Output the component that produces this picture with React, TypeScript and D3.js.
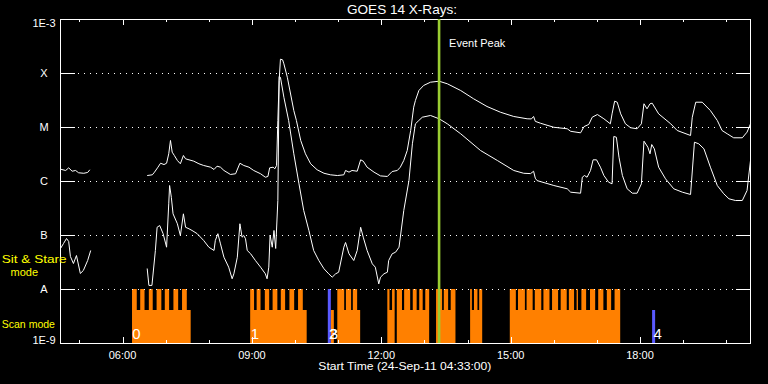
import React from "react";
import * as d3 from "d3";

// GOES 14 X-ray flux, 24-Sep-2011, time in decimal hours (UT), flux in W/m^2
const startHour = 4.55; // 04:33
const endHour = 20.55;

const levelNames = ["1E-9", "A", "B", "C", "M", "X", "1E-3"];
const levelFlux = [1e-9, 1e-8, 1e-7, 1e-6, 1e-5, 1e-4, 1e-3];
const majorHours = [6, 9, 12, 15, 18];

// 1-8 Angstrom channel (null = data gap)
const longChannel: [number, number | null][] = [
  [4.55, 1.69e-6], [4.67, 1.6e-6], [4.74, 1.79e-6], [4.82, 1.55e-6], [4.9, 1.6e-6], [4.97, 1.45e-6],
  [5.09, 1.42e-6], [5.18, 1.47e-6], [5.23, 1.65e-6],
  [5.9, null],
  [6.56, 1.29e-6], [6.68, 1.33e-6], [6.73, 1.49e-6], [6.81, 1.84e-6], [6.87, 2.18e-6], [6.95, 2.06e-6],
  [7.01, 2.18e-6], [7.06, 3.26e-6], [7.1, 5.75e-6], [7.14, 3.49e-6], [7.19, 3.03e-6], [7.26, 2.45e-6],
  [7.33, 2.13e-6], [7.4, 3.03e-6], [7.45, 2.63e-6], [7.53, 2.52e-6], [7.64, 2.38e-6], [7.76, 2.13e-6],
  [7.87, 1.98e-6], [8.03, 1.84e-6], [8.11, 1.67e-6], [8.18, 1.92e-6], [8.26, 1.84e-6], [8.34, 1.6e-6],
  [8.49, 1.35e-6], [8.61, 1.39e-6], [8.71, 2.18e-6], [8.8, 1.98e-6], [8.92, 1.84e-6], [9.03, 1.6e-6],
  [9.19, 1.39e-6], [9.3, 1.2e-6], [9.36, 1.24e-6], [9.4, 1.79e-6], [9.48, 1.84e-6], [9.52, 1.72e-6],
  [9.56, 1.98e-6], [9.59, 1.35e-5], [9.62, 7.4e-5], [9.65, 1.84e-4], [9.7, 1.79e-4], [9.73, 1.51e-4],
  [9.81, 8.5e-5], [9.96, 2.06e-5], [10.02, 1.35e-5], [10.12, 5.75e-6], [10.23, 3.26e-6], [10.35, 2.13e-6],
  [10.5, 1.65e-6], [10.66, 1.42e-6], [10.81, 1.33e-6], [10.97, 1.29e-6], [11.12, 1.33e-6], [11.16, 1.6e-6],
  [11.24, 1.49e-6], [11.31, 1.6e-6], [11.43, 1.55e-6], [11.51, 2.52e-6], [11.57, 2.38e-6], [11.66, 1.84e-6],
  [11.82, 1.49e-6], [11.97, 1.27e-6], [12.13, 1.24e-6], [12.24, 1.53e-6], [12.36, 1.6e-6], [12.43, 1.84e-6],
  [12.51, 2.45e-6], [12.59, 3.75e-6], [12.67, 8.8e-6], [12.74, 2.38e-5], [12.78, 3.16e-5], [12.86, 4.84e-5],
  [12.97, 6.0e-5], [13.13, 6.9e-5], [13.33, 7.2e-5], [13.52, 6.45e-5], [13.83, 4.84e-5], [14.13, 3.4e-5],
  [14.44, 2.45e-5], [14.75, 1.92e-5], [15.06, 1.6e-5], [15.37, 1.45e-5], [15.47, 1.44e-5], [15.52, 1.6e-5],
  [15.56, 1.3e-5], [15.68, 1.2e-5], [15.99, 1.01e-5], [16.3, 9.47e-6], [16.38, 8.5e-6], [16.61, 7.97e-6],
  [16.69, 1.04e-5], [16.8, 1.14e-5], [16.88, 1.55e-5], [17.0, 1.74e-5], [17.15, 1.45e-5], [17.3, 1.17e-5],
  [17.34, 1.79e-5], [17.4, 3.07e-5], [17.46, 2.94e-5], [17.54, 1.79e-5], [17.65, 1.17e-5], [17.77, 9.9e-6],
  [17.92, 9.47e-6], [18.02, 1.17e-5], [18.08, 2.75e-5], [18.15, 2.22e-5], [18.22, 2.75e-5], [18.27, 2.82e-5],
  [18.42, 1.79e-5], [18.7, 1.17e-5], [18.85, 8.8e-6], [19.16, 7.11e-6], [19.2, 1.55e-5], [19.28, 2.94e-5],
  [19.43, 2.94e-5], [19.62, 2.06e-5], [19.78, 1.35e-5], [19.89, 8.8e-6], [20.01, 7.65e-6], [20.16, 6.45e-6],
  [20.36, 6.45e-6], [20.47, 8.2e-6], [20.55, 1.17e-5],
];

// 0.5-4 Angstrom channel
const shortChannel: [number, number | null][] = [
  [4.55, 5.75e-8], [4.62, 7.11e-8], [4.69, 8.8e-8], [4.74, 7.74e-8], [4.78, 4.08e-8], [4.85, 3.03e-8],
  [4.92, 4.26e-8], [5.01, 1.98e-8], [5.08, 2.25e-8], [5.18, 3.44e-8], [5.25, 5.28e-8],
  [5.9, null],
  [6.56, 2.45e-8], [6.6, 1.19e-8], [6.67, 1.19e-8], [6.75, 5.28e-8], [6.79, 1.42e-7], [6.85, 1.53e-7],
  [6.93, 1.08e-7], [7.01, 6.07e-8], [7.06, 3.86e-7], [7.08, 8.43e-7], [7.12, 5.1e-7], [7.16, 2.52e-7],
  [7.26, 1.65e-7], [7.33, 1.0e-7], [7.4, 2.52e-7], [7.45, 1.42e-7], [7.53, 1.33e-7], [7.6, 1.24e-7],
  [7.72, 1.08e-7], [7.87, 8.08e-8], [7.99, 6.07e-8], [8.11, 5.28e-8], [8.14, 8.08e-8], [8.2, 1.08e-7],
  [8.26, 7.0e-8], [8.34, 3.96e-8], [8.45, 2.59e-8], [8.53, 1.58e-8], [8.57, 1.95e-8], [8.65, 3.96e-8],
  [8.71, 1.65e-7], [8.76, 9.3e-8], [8.8, 1.0e-7], [8.84, 8.7e-8], [8.88, 5.28e-8], [8.96, 4.58e-8],
  [9.07, 3.44e-8], [9.19, 2.59e-8], [9.3, 1.95e-8], [9.34, 1.58e-8], [9.38, 2.59e-8], [9.41, 1.02e-7],
  [9.46, 6.07e-8], [9.5, 1.24e-7], [9.54, 5.75e-8], [9.59, 4.45e-7], [9.62, 8.8e-5], [9.65, 8.5e-5],
  [9.73, 3.63e-5], [9.84, 1.35e-5], [9.96, 3.26e-6], [10.08, 9.06e-7], [10.19, 2.9e-7], [10.31, 1.24e-7],
  [10.42, 5.28e-8], [10.54, 3.44e-8], [10.66, 2.42e-8], [10.77, 1.95e-8], [10.85, 1.69e-8], [10.93, 1.95e-8],
  [11.0, 2.09e-8], [11.12, 6.07e-8], [11.16, 7.42e-8], [11.24, 4.58e-8], [11.35, 3.44e-8], [11.43, 5.28e-8],
  [11.51, 1.42e-7], [11.57, 9.3e-8], [11.66, 5.28e-8], [11.78, 2.99e-8], [11.85, 2.59e-8], [11.93, 1.27e-8],
  [11.97, 1.69e-8], [12.05, 1.95e-8], [12.13, 2.09e-8], [12.16, 3.44e-8], [12.24, 4.58e-8], [12.32, 4.91e-8],
  [12.4, 6.07e-8], [12.51, 2.9e-7], [12.63, 1.04e-6], [12.71, 4.99e-6], [12.78, 1.17e-5], [12.86, 1.35e-5],
  [12.94, 1.55e-5], [13.13, 1.67e-5], [13.33, 1.45e-5], [13.52, 1.17e-5], [13.83, 7.65e-6], [14.29, 3.75e-6],
  [14.68, 2.45e-6], [15.06, 1.6e-6], [15.29, 1.42e-6], [15.45, 1.4e-6], [15.52, 1.55e-6], [15.56, 1.15e-6],
  [15.6, 1.04e-6], [15.99, 8.43e-7], [16.3, 7.33e-7], [16.38, 6.34e-7], [16.61, 6.07e-7], [16.65, 1.2e-6],
  [16.7, 1.29e-6], [16.76, 1.2e-6], [16.84, 1.6e-6], [16.9, 2.52e-6], [16.98, 2.52e-6], [17.07, 1.84e-6],
  [17.15, 1.29e-6], [17.26, 9.7e-7], [17.34, 9.06e-7], [17.38, 6.81e-6], [17.44, 6.6e-6], [17.5, 2.82e-6],
  [17.58, 1.29e-6], [17.69, 7.33e-7], [17.81, 6.07e-7], [17.92, 6.07e-7], [18.02, 9.06e-7], [18.08, 5.58e-6],
  [18.17, 4.32e-6], [18.22, 3.26e-6], [18.26, 4.84e-6], [18.32, 4.03e-6], [18.42, 1.84e-6], [18.58, 1.12e-6],
  [18.77, 7.33e-7], [18.97, 6.34e-7], [19.16, 5.75e-7], [19.25, 5.34e-6], [19.35, 4.99e-6], [19.47, 4.03e-6],
  [19.62, 1.84e-6], [19.78, 8.43e-7], [19.93, 5.92e-7], [20.05, 4.78e-7], [20.2, 4.45e-7], [20.36, 4.45e-7],
  [20.47, 6.81e-7], [20.55, 2.45e-6],
];

// instrument mode: scan blocks (lower band) and scan frames (upper band)
const scanBlocks = [
  [6.22, 7.58], [8.96, 10.27], [10.83, 10.9], [10.98, 11.51], [12.14, 12.31], [12.36, 13.11],
  [13.27, 13.72], [14.06, 14.34], [14.98, 17.54],
];
const scanFrames = [
  [6.22, 6.33], [6.41, 6.51], [6.61, 6.7], [6.79, 6.9], [6.98, 7.08], [7.18, 7.29], [7.38, 7.49],
  [8.96, 9.05], [9.11, 9.2], [9.3, 9.4], [9.48, 9.59], [9.67, 9.77], [9.87, 9.98], [10.07, 10.18],
  [10.98, 11.14], [11.18, 11.3], [11.34, 11.44],
  [12.14, 12.19], [12.25, 12.31], [12.36, 12.48], [12.53, 12.67], [12.73, 12.82], [12.88, 12.96], [13.02, 13.11],
  [13.27, 13.41], [13.45, 13.55], [13.61, 13.72],
  [14.06, 14.1], [14.15, 14.23], [14.27, 14.34],
  [14.98, 15.12], [15.17, 15.33], [15.37, 15.51], [15.56, 15.71], [15.76, 15.9], [15.96, 16.1], [16.16, 16.3],
  [16.35, 16.47], [16.53, 16.56], [16.64, 16.75], [16.84, 16.96], [17.03, 17.15], [17.23, 17.33], [17.41, 17.54],
];
const stareFull = [[10.76, 10.83]];
const stareLow = [[18.28, 18.35]];
const modeLabels = ["0", "1", "2", "3", "4"];
const modeLabelHours = [6.32, 9.07, 10.88, 10.9, 18.41];
const eventPeakHour = 13.34;

const W = 768;
const H = 384;
const left = 60, right = 750, top = 19, bottom = 343;
const bandSplit = 310;
const font = "'Liberation Sans', Arial, sans-serif";
const orange = "#ff8000";
const blue = "#5a5aff";
const yellow = "#ffff00";

const App = () => {
  const x = d3.scaleLinear().domain([startHour, endHour]).range([left, right]);
  const y = d3.scaleLog().domain([1e-9, 1e-3]).range([bottom, top]);
  const hourTicks = x.ticks(16).filter((h) => Number.isInteger(h));
  const fmt = d3.format("02d");

  const line = d3
    .line<[number, number | null]>()
    .defined((d) => d[1] != null)
    .x((d) => x(d[0]))
    .y((d) => y(d[1] as number));

  const yA = y(1e-8);

  return (
    <svg width={W} height={H} style={{ position: "absolute", left: 0, top: 0, background: "#000" }}>
      <rect width={W} height={H} fill="#000" />

      {/* mode bars */}
      {scanBlocks.map(([a, b], i) => (
        <rect key={"sb" + i} x={x(a)} y={bandSplit} width={x(b) - x(a)} height={bottom - bandSplit} fill={orange} />
      ))}
      {scanFrames.map(([a, b], i) => (
        <rect key={"sf" + i} x={x(a)} y={yA} width={x(b) - x(a)} height={bandSplit - yA} fill={orange} />
      ))}
      {stareFull.map(([a, b], i) => (
        <rect key={"bf" + i} x={x(a)} y={yA} width={x(b) - x(a)} height={bottom - yA} fill={blue} />
      ))}
      {stareLow.map(([a, b], i) => (
        <rect key={"bl" + i} x={x(a)} y={bandSplit} width={x(b) - x(a)} height={bottom - bandSplit} fill={blue} />
      ))}
      {modeLabels.map((m, i) => (
        <text key={"ml" + i} x={x(modeLabelHours[i])} y={338.5} fill="#fff" fontFamily={font} fontSize={15} textAnchor="middle">
          {m}
        </text>
      ))}

      {/* grid and axes */}
      <g shapeRendering="crispEdges" stroke="#fff" strokeWidth={1}>
        {levelFlux.slice(1, -1).map((f) => (
          <g key={"g" + f}>
            <line x1={78} x2={736} y1={y(f) + 0.5} y2={y(f) + 0.5} strokeDasharray="1 5" />
            <line x1={left} x2={left + 15} y1={y(f) + 0.5} y2={y(f) + 0.5} />
            <line x1={right - 14} x2={right} y1={y(f) + 0.5} y2={y(f) + 0.5} />
          </g>
        ))}
        {hourTicks.map((h) => {
          const len = majorHours.includes(h) ? 6 : 3;
          const xx = Math.round(x(h)) + 0.5;
          return (
            <g key={"t" + h}>
              <line x1={xx} x2={xx} y1={top} y2={top + len} />
              <line x1={xx} x2={xx} y1={bottom} y2={bottom - len} />
            </g>
          );
        })}
        <rect x={left + 0.5} y={top + 0.5} width={right - left} height={bottom - top} fill="none" />
      </g>

      {/* flux curves */}
      <g transform="translate(0.5,0.5)" fill="none" stroke="#fff" strokeWidth={1}>
        <path d={line(longChannel) || ""} />
        <path d={line(shortChannel) || ""} />
      </g>

      {/* event peak */}
      <line x1={x(eventPeakHour)} x2={x(eventPeakHour)} y1={top} y2={bottom} stroke="#9acd32" strokeWidth={2.6} />
      <text x={x(eventPeakHour) + 10} y={46.5} fill="#fff" fontFamily={font} fontSize={11}>
        Event Peak
      </text>

      {/* labels */}
      <text x={402} y={14} fill="#fff" fontFamily={font} fontSize={13} textAnchor="middle" textLength={110} lengthAdjust="spacingAndGlyphs">
        GOES 14 X-Rays:
      </text>
      {levelNames.map((n, i) => (
        <text key={n} x={44} y={y(levelFlux[i]) + (i === levelNames.length - 1 ? 7.7 : i === 0 ? 1 : 4)} fill="#fff" fontFamily={font} fontSize={11} textAnchor="middle">
          {n}
        </text>
      ))}
      {majorHours.map((h) => (
        <text key={"hl" + h} x={x(h)} y={359} fill="#fff" fontFamily={font} fontSize={11} textAnchor="middle">
          {fmt(h)}:00
        </text>
      ))}
      <text x={318.3} y={369.5} fill="#fff" fontFamily={font} fontSize={11} textLength={173} lengthAdjust="spacingAndGlyphs">
        Start Time (24-Sep-11 04:33:00)
      </text>
      <text x={1.7} y={262.5} fill={yellow} fontFamily={font} fontSize={11} textLength={65} lengthAdjust="spacingAndGlyphs">
        Sit &amp; Stare
      </text>
      <text x={24.3} y={276} fill={yellow} fontFamily={font} fontSize={11} textAnchor="middle">
        mode
      </text>
      <text x={1.7} y={327.7} fill={yellow} fontFamily={font} fontSize={11} textLength={53.3} lengthAdjust="spacingAndGlyphs">
        Scan mode
      </text>
    </svg>
  );
};

export default App;
